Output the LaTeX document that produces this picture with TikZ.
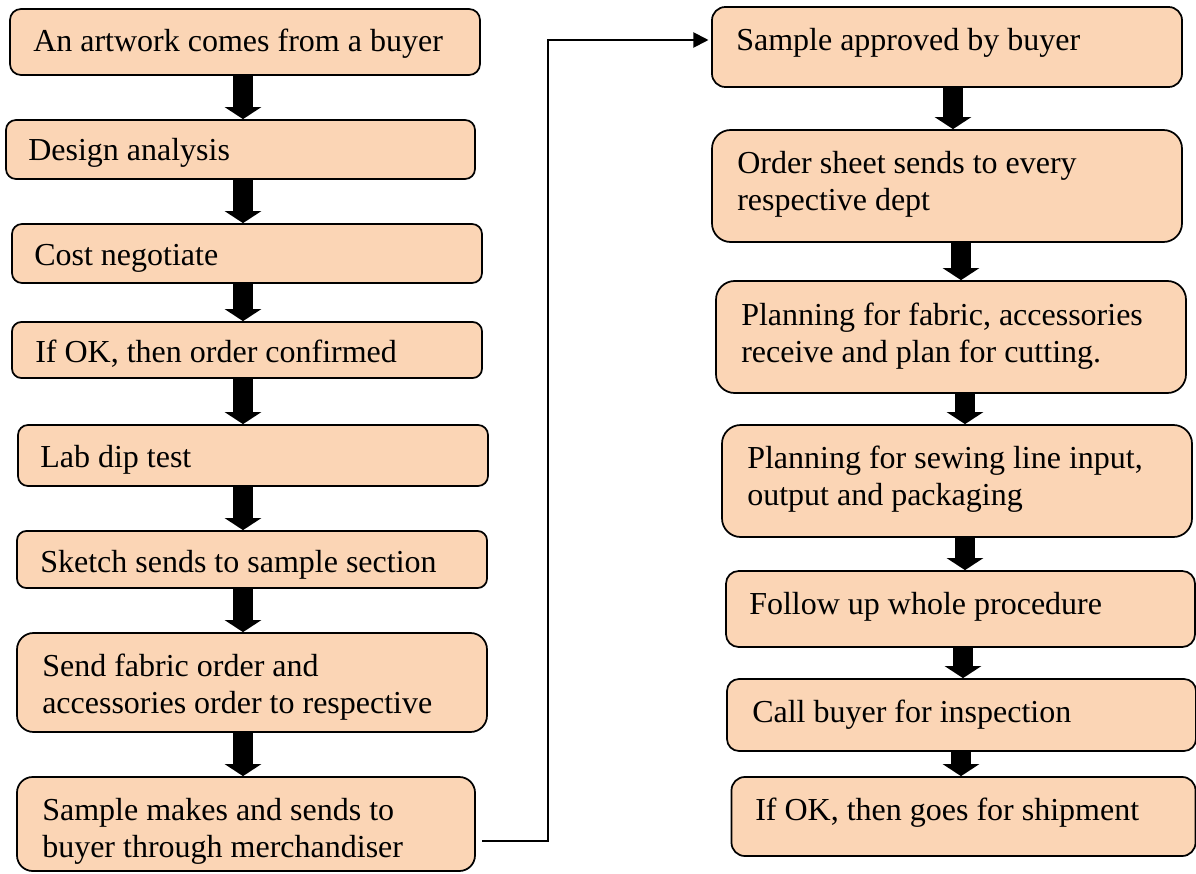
\documentclass[tikz,border=0pt]{standalone}
\usepackage{fontspec}
\setmainfont{Liberation Serif}
\usetikzlibrary{arrows.meta}
\definecolor{peach}{RGB}{251,213,181}
\newcommand{\twoline}[2]{\vtop{\hbox{#1}\hbox{#2}}}
\begin{document}
\begin{tikzpicture}[x=0.75pt,y=-0.75pt,
  box/.style={draw=black, fill=peach, line width=1.3pt, inner sep=0pt, rectangle},
  txt/.style={anchor=base west, inner sep=0pt, font=\fontsize{24}{27.75}\selectfont},
  blk/.style={line width=15pt, -{Triangle[width=27pt,length=9pt]}},
  conn/.style={line width=1.5pt, -{Triangle[width=11.25pt,length=11.25pt]}}
]
\useasboundingbox (0,0) rectangle (1196,874);

% left column boxes
\node[box, minimum width=352.5pt, minimum height=49.5pt, rounded corners=8.25pt] (L1) at (245,42) {};
\node[box, minimum width=351.75pt, minimum height=44.25pt, rounded corners=7.5pt] (L2) at (240.5,149.5) {};
\node[box, minimum width=352.5pt, minimum height=44.25pt, rounded corners=7.5pt] (L3) at (247,253.5) {};
\node[box, minimum width=352.5pt, minimum height=42pt, rounded corners=7pt] (L4) at (247,350) {};
\node[box, minimum width=352.5pt, minimum height=45.75pt, rounded corners=7.5pt] (L5) at (253,455.5) {};
\node[box, minimum width=352.5pt, minimum height=42.75pt, rounded corners=7pt] (L6) at (252,559.5) {};
\node[box, minimum width=352.5pt, minimum height=74.25pt, rounded corners=12.4pt] (L7) at (252,682.5) {};
\node[box, minimum width=343.5pt, minimum height=70.5pt, rounded corners=11.75pt] (L8) at (246,824) {};

% right column boxes
\node[box, minimum width=352.5pt, minimum height=60pt, rounded corners=10pt] (R1) at (947,47) {};
\node[box, minimum width=352.5pt, minimum height=84pt, rounded corners=14pt] (R2) at (947,186) {};
\node[box, minimum width=352.5pt, minimum height=84pt, rounded corners=14pt] (R3) at (951,337) {};
\node[box, minimum width=352.5pt, minimum height=84pt, rounded corners=14pt] (R4) at (957,481) {};
\node[box, minimum width=351.75pt, minimum height=57pt, rounded corners=9.5pt] (R5) at (960.5,609) {};
\node[box, minimum width=351.75pt, minimum height=54pt, rounded corners=9pt] (R6) at (961.5,715) {};
\node[box, minimum width=348pt, minimum height=59.25pt, rounded corners=10pt] (R7) at (963.5,816.5) {};

% texts
\node[txt] (t1) at (33,52) {An artwork comes from a buyer};
\node[txt] (t2) at (28,160) {Design analysis};
\node[txt] (t3) at (34,265) {Cost negotiate};
\node[txt] (t4) at (35,362) {If OK, then order confirmed};
\node[txt] (t5) at (40,467) {Lab dip test};
\node[txt] (t6) at (40,572) {Sketch sends to sample section};
\node[txt] (t7) at (42,676) {\twoline{Send fabric order and}{accessories order to respective}};
\node[txt] (t8) at (42,820) {\twoline{Sample makes and sends to}{buyer through merchandiser}};

\node[txt] (s1) at (736,51) {Sample approved by buyer};
\node[txt] (s2) at (737,173) {\twoline{Order sheet sends to every}{respective dept}};
\node[txt] (s3) at (741,325) {\twoline{Planning for fabric, accessories}{receive and plan for cutting.}};
\node[txt] (s4) at (747,468) {\twoline{Planning for sewing line input,}{output and packaging}};
\node[txt] (s5) at (749,614) {Follow up whole procedure};
\node[txt] (s6) at (752,722) {Call buyer for inspection};
\node[txt] (s7) at (755,820) {If OK, then goes for shipment};

% arrow axes
\coordinate (xl) at (243,0);
\coordinate (xr1) at (953,0);
\coordinate (xr2) at (961,0);
\coordinate (xr3) at (965,0);
\coordinate (xr4) at (965,0);
\coordinate (xr5) at (963,0);
\coordinate (xr6) at (961,0);

% block arrows, left
\draw[blk] (L1.south -| xl) -- (L2.north -| xl);
\draw[blk] (L2.south -| xl) -- (L3.north -| xl);
\draw[blk] (L3.south -| xl) -- (L4.north -| xl);
\draw[blk] (L4.south -| xl) -- (L5.north -| xl);
\draw[blk] (L5.south -| xl) -- (L6.north -| xl);
\draw[blk] (L6.south -| xl) -- (L7.north -| xl);
\draw[blk] (L7.south -| xl) -- (L8.north -| xl);

% block arrows, right
\draw[blk] (R1.south -| xr1) -- (R2.north -| xr1);
\draw[blk] (R2.south -| xr2) -- (R3.north -| xr2);
\draw[blk] (R3.south -| xr3) -- (R4.north -| xr3);
\draw[blk] (R4.south -| xr4) -- (R5.north -| xr4);
\draw[blk] (R5.south -| xr5) -- (R6.north -| xr5);
\draw[blk] (R6.south -| xr6) -- (R7.north -| xr6);

% connector from left column to right column
\coordinate (c0) at (482,841);
\coordinate (c1) at (548,841);
\coordinate (c2) at (548,40);
\draw[conn] (c0) -- (c1) -- (c2) -- ([xshift=-2pt]R1.west |- c2);
\end{tikzpicture}
\end{document}
